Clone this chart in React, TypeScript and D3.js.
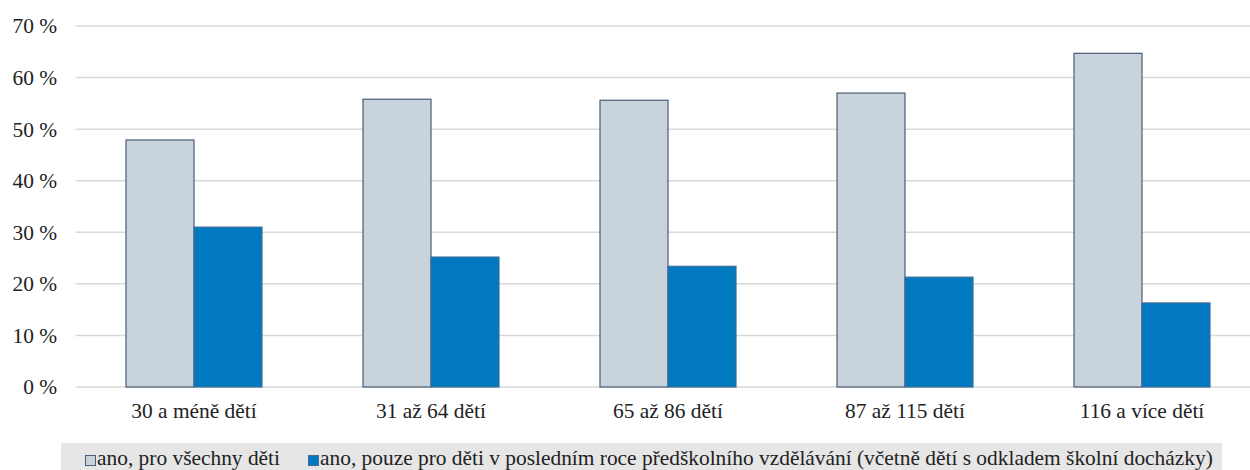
import React from "react";
import * as d3 from "d3";

const categories = ["30 a méně dětí", "31 až 64 dětí", "65 až 86 dětí", "87 až 115 dětí", "116 a více dětí"];
const seriesNames = ["ano, pro všechny děti", "ano, pouze pro děti v posledním roce předškolního vzdělávání (včetně dětí s odkladem školní docházky)"];
const allChildren = [47.9, 55.8, 55.6, 57.0, 64.7];
const lastYearOnly = [31.0, 25.2, 23.4, 21.3, 16.3];
const yTicks = [0, 10, 20, 30, 40, 50, 60, 70];

const W = 1250, H = 470;
const plot = { left: 75.5, right: 1260.5, top: 26, bottom: 387 };
const fills = ["#C9D3DC", "#0079C1"];
const strokes = ["#4A5D78", "#3E6E98"];
const font = "'Liberation Serif', 'Times New Roman', serif";

export default function App() {
  const x = d3.scaleBand<string>().domain(categories).range([plot.left, plot.right]).paddingInner(0).paddingOuter(0);
  const y = d3.scaleLinear().domain([0, 70]).range([plot.bottom, plot.top]);
  const barW = 68;
  const series = [allChildren, lastYearOnly];
  return (
    <svg width={W} height={H} style={{ position: "absolute", left: 0, top: 0 }} fontFamily={font}>
      <rect width={W} height={H} fill="#fff" />
      {yTicks.map((t) => (
        <g key={t}>
          <line x1={plot.left} x2={W} y1={y(t)} y2={y(t)} stroke="#D9D9D9" strokeWidth={1.5} />
          <text x={57} y={y(t)} dy="0.35em" textAnchor="end" fontSize={21.4} fill="#222">{`${t} %`}</text>
        </g>
      ))}
      {categories.map((c, i) => {
        const cx = x(c)! + x.bandwidth() / 2;
        return (
          <g key={c}>
            {series.map((s, k) => (
              <rect key={k} x={cx - barW + k * barW} y={y(s[i])} width={barW} height={y(0) - y(s[i])}
                fill={fills[k]} stroke={strokes[k]} strokeWidth={1.2} />
            ))}
            <text x={cx} y={411} dy="0.35em" textAnchor="middle" fontSize={21.4} fill="#222">{c}</text>
          </g>
        );
      })}
      <rect x={61} y={443} width={1161} height={27} fill="#E6E6E6" />
      <rect x={85.5} y={455.5} width={10} height={10} fill={fills[0]} stroke={strokes[0]} strokeWidth={1} />
      <text x={97} y={465} fontSize={21.4} fill="#222">{seriesNames[0]}</text>
      <rect x={308.5} y={455.5} width={10} height={10} fill={fills[1]} stroke={strokes[1]} strokeWidth={1} />
      <text x={320} y={465} fontSize={21.4} fill="#222">{seriesNames[1]}</text>
    </svg>
  );
}
